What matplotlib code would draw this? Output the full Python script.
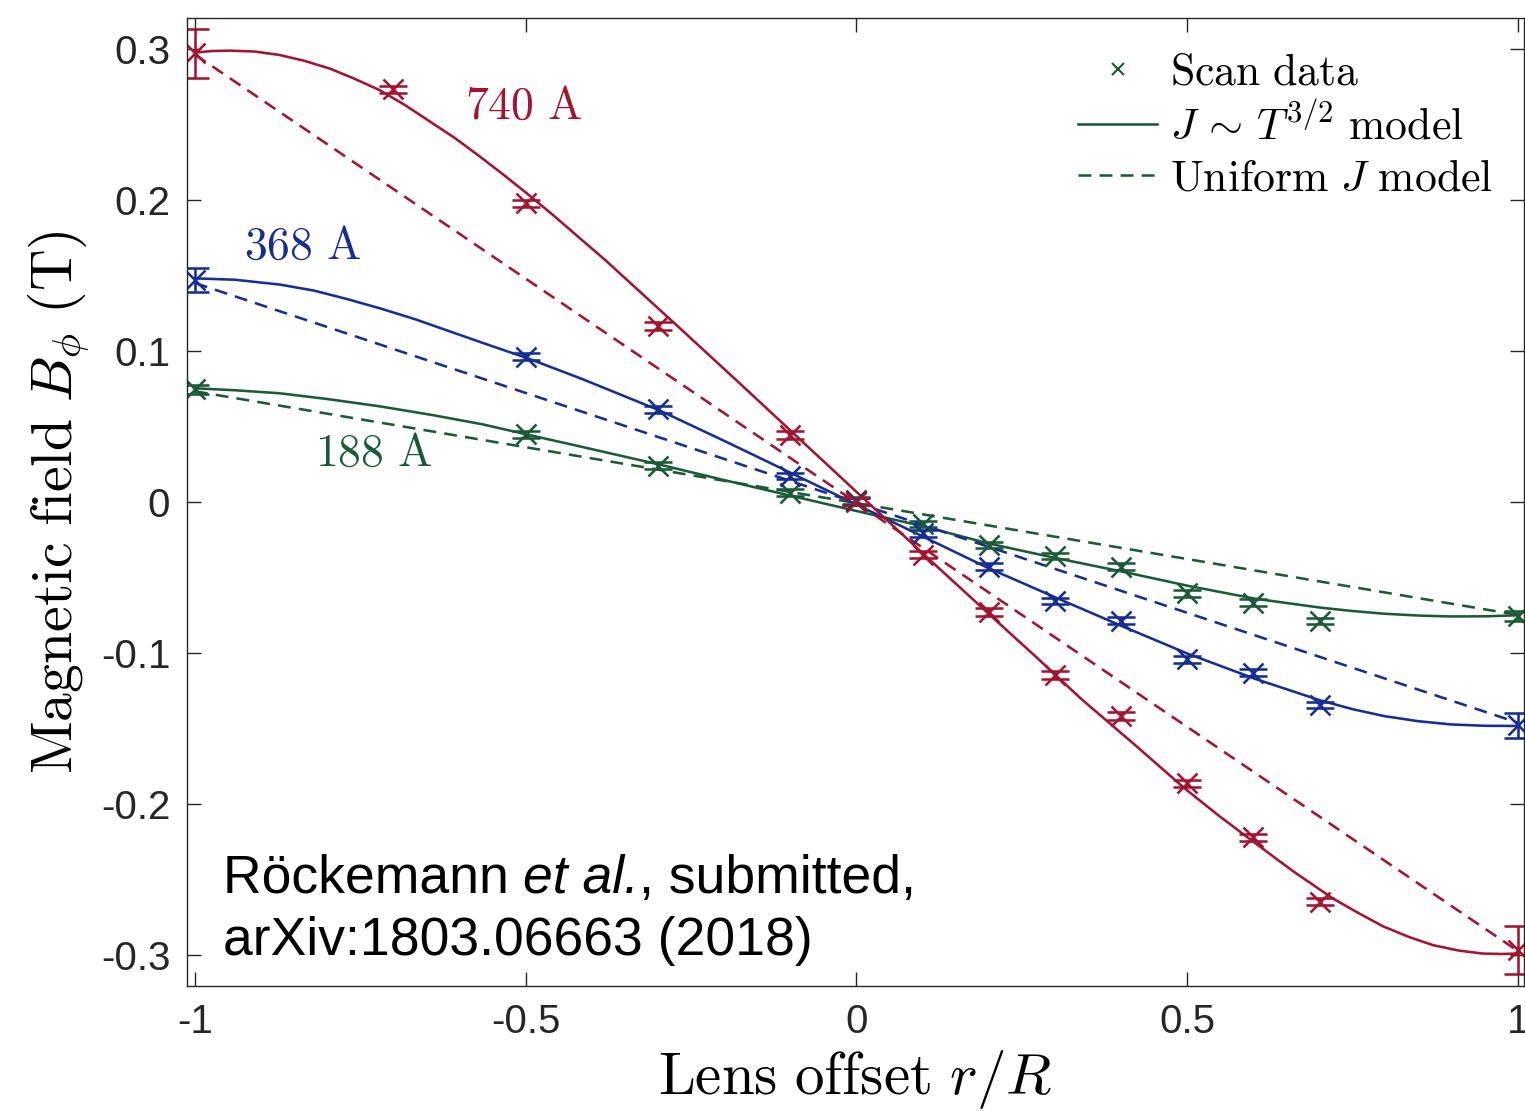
import numpy as np
import matplotlib
matplotlib.use("Agg")
import matplotlib.pyplot as plt
from matplotlib.lines import Line2D

plt.rcParams['mathtext.fontset'] = 'cm'
plt.rcParams['font.family'] = ['Liberation Sans', 'DejaVu Sans']

# scan data (x = r/R, y = B_phi in T)
red_x = [-1, -0.7, -0.5, -0.3, -0.1, 0, 0.1, 0.2, 0.3, 0.4, 0.5, 0.6, 0.7, 1]
red_y = [0.2971, 0.2733, 0.1978, 0.1166, 0.0444, 0.0002, -0.0350, -0.0728,
         -0.1146, -0.1417, -0.1863, -0.2220, -0.2647, -0.2967]
red_err = [0.0163, 0.0024, 0.0024, 0.0024, 0.0024, 0.0024, 0.0024, 0.0024,
           0.0024, 0.0024, 0.0024, 0.0024, 0.0024, 0.0160]

blue_x = [-1, -0.5, -0.3, -0.1, 0, 0.1, 0.2, 0.3, 0.4, 0.5, 0.6, 0.7, 1]
blue_y = [0.1470, 0.0962, 0.0614, 0.0172, 0.0005, -0.0208, -0.0428, -0.0656,
          -0.0786, -0.1042, -0.1130, -0.1344, -0.1477]
blue_err = [0.0080, 0.0022, 0.0022, 0.0022, 0.0022, 0.0022, 0.0022, 0.0022,
            0.0022, 0.0022, 0.0022, 0.0022, 0.0083]

green_x = [-1, -0.5, -0.3, -0.1, 0, 0.1, 0.2, 0.3, 0.4, 0.5, 0.6, 0.7, 1]
green_y = [0.0746, 0.0448, 0.0241, 0.0062, 0.0010, -0.0146, -0.0285, -0.0358,
           -0.0428, -0.0605, -0.0667, -0.0788, -0.0755]
green_err = [0.0030, 0.0022, 0.0022, 0.0022, 0.0022, 0.0022, 0.0022, 0.0022,
             0.0022, 0.0022, 0.0022, 0.0022, 0.0030]

# J ~ T^(3/2) model curves
red_mx = [-1, -0.975, -0.947, -0.91, -0.872, -0.835, -0.796, -0.76, -0.721, -0.683,
          -0.645, -0.607, -0.57, -0.535, -0.5, -0.46, -0.419, -0.38, -0.343, -0.268,
          -0.18, -0.098, 0.043, 0.12, 0.199, 0.27, 0.34, 0.42, 0.496, 0.547, 0.597,
          0.66, 0.72, 0.76, 0.796, 0.835, 0.871, 0.91, 0.946, 0.975, 1.0]
red_my = [0.2976, 0.2986, 0.2989, 0.2983, 0.2960, 0.2922, 0.2870, 0.2805, 0.2728,
          0.2630, 0.2520, 0.2410, 0.2290, 0.2172, 0.2050, 0.1905, 0.1750, 0.1603,
          0.1455, 0.1155, 0.0800, 0.0466, -0.0108, -0.0420, -0.0737, -0.1020,
          -0.1305, -0.1605, -0.1896, -0.2075, -0.2240, -0.2445, -0.2625, -0.2725,
          -0.2810, -0.2880, -0.2934, -0.2970, -0.2990, -0.2993, -0.2990]

blue_mx = [-1, -0.94, -0.872, -0.82, -0.771, -0.72, -0.667, -0.566, -0.496, -0.415,
           -0.297, -0.2, -0.098, 0.043, 0.12, 0.2, 0.305, 0.403, 0.501, 0.602, 0.702,
           0.75, 0.798, 0.85, 0.899, 0.95, 1.0]
blue_my = [0.1481, 0.1472, 0.1440, 0.1400, 0.1345, 0.1282, 0.1210, 0.1055, 0.0950,
           0.0815, 0.0605, 0.0405, 0.0190, -0.0108, -0.0270, -0.0439, -0.0640,
           -0.0825, -0.1005, -0.1170, -0.1315, -0.1372, -0.1418, -0.1452, -0.1473,
           -0.1482, -0.1483]

green_mx = [-1, -0.94, -0.872, -0.8, -0.72, -0.64, -0.566, -0.496, -0.42, -0.34, -0.297,
            -0.2, -0.098, 0.043, 0.1, 0.2, 0.3, 0.403, 0.501, 0.602, 0.702, 0.75,
            0.798, 0.85, 0.899, 0.95, 1.0]
green_my = [0.0753, 0.0740, 0.0720, 0.0682, 0.0633, 0.0575, 0.0515, 0.0445, 0.0370,
            0.0290, 0.0247, 0.0145, 0.0040, -0.0103, -0.0160, -0.0275, -0.0370,
            -0.0462, -0.0555, -0.0640, -0.0700, -0.0722, -0.0740, -0.0752, -0.0758,
            -0.0757, -0.0750]

# uniform J model (straight lines)
uni_x = [-1, 1]
red_uni = [0.2963, -0.2974]
blue_uni = [0.1450, -0.1462]
green_uni = [0.0733, -0.0748]

currents = ['188 A', '368 A', '740 A']
xticks = [-1, -0.5, 0, 0.5, 1]
xticklabels = ['-1', '-0.5', '0', '0.5', '1']
yticks = [0.3, 0.2, 0.1, 0, -0.1, -0.2, -0.3]
yticklabels = ['0.3', '0.2', '0.1', '0', '-0.1', '-0.2', '-0.3']

RED = '#A2142F'
BLUE = '#162E93'
GREEN = '#1B5A36'

fig = plt.figure(figsize=(15.25, 11.11), dpi=100)
ax = fig.add_axes([187/1525, 125/1111, 1337/1525, 968/1111])

lw = 1.85
dash = (5, 3.2)
series = [
    (GREEN, green_x, green_y, green_err, green_mx, green_my, green_uni),
    (BLUE, blue_x, blue_y, blue_err, blue_mx, blue_my, blue_uni),
    (RED, red_x, red_y, red_err, red_mx, red_my, red_uni),
]
for c, x, y, e, mx, my, uni in series:
    ax.plot(mx, my, color=c, lw=lw)
    ax.plot(uni_x, uni, color=c, lw=lw, dashes=dash)
    ax.errorbar(x, y, yerr=e, fmt='x', color=c, ms=14, mew=lw, elinewidth=lw,
                capsize=10, capthick=lw)

txt_kw = dict(fontsize=33, ha='center', va='center')
ax.text(-0.503, 0.262, r'$\mathrm{740\ A}$', color=RED, **txt_kw)
ax.text(-0.838, 0.169, r'$\mathrm{368\ A}$', color=BLUE, **txt_kw)
ax.text(-0.73, 0.032, r'$\mathrm{188\ A}$', color=GREEN, **txt_kw)

# citation with italic "et al."
cfs = 38.5
t1 = ax.text(-0.958, -0.2589, 'Röckemann ', fontsize=cfs, va='baseline', ha='left')
t2 = ax.annotate('et al.', xy=(1, 0), xycoords=t1, va='bottom', ha='left',
                 fontsize=cfs, style='italic')
ax.annotate(', submitted,', xy=(1, 0), xycoords=t2, va='bottom', ha='left', fontsize=cfs)
ax.text(-0.958, -0.3000, 'arXiv:1803.06663 (2018)', fontsize=cfs, va='baseline', ha='left')

handles = [
    Line2D([], [], ls='none', marker='x', color=GREEN, ms=8, mew=1.5),
    Line2D([], [], color=GREEN, lw=lw),
    Line2D([], [], color=GREEN, lw=lw, dashes=dash),
]
labels = [r'$\mathrm{Scan\ data}$', r'$J\,\sim\,T^{3/2}\ \mathrm{model}$',
          r'$\mathrm{Uniform}\ J\ \mathrm{model}$']
ax.legend(handles, labels, loc='upper right', frameon=False, fontsize=31.5,
          handlelength=1.8, handletextpad=0.3, labelspacing=0.22,
          borderaxespad=0.3, bbox_to_anchor=(1.0, 0.996))

ax.set_xlim(-1.012, 1.009)
ax.set_ylim(-0.3205, 0.3205)
ax.set_xticks(xticks)
ax.set_xticklabels(xticklabels)
ax.set_yticks(yticks)
ax.set_yticklabels(yticklabels)
ax.tick_params(direction='in', length=10, width=1.0, labelsize=29, colors='#262626',
               top=True, right=True, pad=12)
for s in ax.spines.values():
    s.set_color('#262626')
    s.set_linewidth(1.0)

ax.set_xlabel(r'$\mathrm{Lens\ offset}\ r/R$', fontsize=42.5, labelpad=5)
ax.set_ylabel(r'$\mathrm{Magnetic\ field}\ B_\phi\ \mathrm{(T)}$', fontsize=41.5, labelpad=6)

fig.savefig('out.png', dpi=100)
